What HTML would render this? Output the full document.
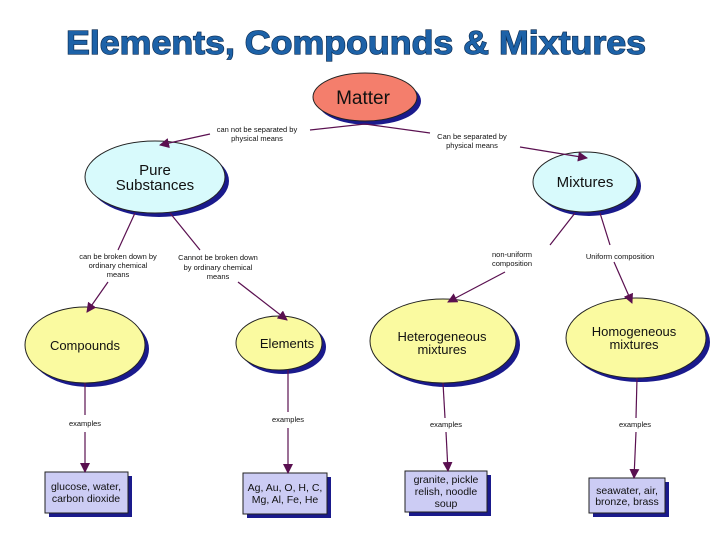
<!DOCTYPE html>
<html><head><meta charset="utf-8"><style>
body{margin:0;background:#fff}
svg{display:block}
.t{font-family:"Liberation Sans",sans-serif}
</style></head><body>
<svg width="720" height="540" viewBox="0 0 720 540" xmlns="http://www.w3.org/2000/svg">
<defs><marker id="a" markerWidth="12" markerHeight="12" refX="9" refY="5" orient="auto" markerUnits="userSpaceOnUse"><path d="M0,0 L10,5 L0,10 Z" fill="#5a1050"/></marker></defs>
<text x="356" y="54" text-anchor="middle" class="t" font-size="33" font-weight="bold" fill="#1d62a8" stroke="#0a2a50" stroke-width="1.2" paint-order="stroke" textLength="580" lengthAdjust="spacingAndGlyphs">Elements, Compounds &amp; Mixtures</text>
<g fill="#1a1a8c">
<ellipse cx="369" cy="101" rx="52" ry="24"/><ellipse cx="159" cy="181" rx="70" ry="36"/><ellipse cx="589" cy="186" rx="52" ry="30"/>
<ellipse cx="89" cy="349" rx="60" ry="38"/><ellipse cx="283" cy="347" rx="43" ry="27"/><ellipse cx="447" cy="345" rx="73" ry="42"/><ellipse cx="640" cy="342" rx="70" ry="40"/>
<rect x="49" y="476" width="83" height="41"/><rect x="247" y="477" width="84" height="41"/><rect x="409" y="475" width="82" height="41"/><rect x="593" y="482" width="76" height="35"/>
</g>
<g stroke="#222" stroke-width="1">
<ellipse cx="365" cy="97" rx="52" ry="24" fill="#f47e6c"/>
<ellipse cx="155" cy="177" rx="70" ry="36" fill="#d8fafc"/>
<ellipse cx="585" cy="182" rx="52" ry="30" fill="#d8fafc"/>
<ellipse cx="85" cy="345" rx="60" ry="38" fill="#fafaa0"/>
<ellipse cx="279" cy="343" rx="43" ry="27" fill="#fafaa0"/>
<ellipse cx="443" cy="341" rx="73" ry="42" fill="#fafaa0"/>
<ellipse cx="636" cy="338" rx="70" ry="40" fill="#fafaa0"/>
<rect x="45" y="472" width="83" height="41" fill="#ccccf4"/>
<rect x="243" y="473" width="84" height="41" fill="#ccccf4"/>
<rect x="405" y="471" width="82" height="41" fill="#ccccf4"/>
<rect x="589" y="478" width="76" height="35" fill="#ccccf4"/>
</g>
<g stroke="#5a1050" stroke-width="1.2" fill="none">
<polyline points="365,124 310,130"/><polyline points="210,134 160,145" marker-end="url(#a)"/>
<polyline points="365,124 430,133"/><polyline points="520,147 587,158" marker-end="url(#a)"/>
<polyline points="135,213 118,250"/><polyline points="108,282 87,312" marker-end="url(#a)"/>
<polyline points="170,213 200,250"/><polyline points="238,282 287,320" marker-end="url(#a)"/>
<polyline points="575,213 550,245"/><polyline points="505,272 448,302" marker-end="url(#a)"/>
<polyline points="600,213 610,245"/><polyline points="614,262 632,303" marker-end="url(#a)"/>
<line x1="85" y1="383" x2="85" y2="415"/><line x1="85" y1="432" x2="85" y2="472" marker-end="url(#a)"/>
<line x1="288" y1="370" x2="288" y2="412"/><line x1="288" y1="428" x2="288" y2="473" marker-end="url(#a)"/>
<line x1="443" y1="383" x2="445" y2="418"/><line x1="446" y1="432" x2="448" y2="471" marker-end="url(#a)"/>
<line x1="637" y1="378" x2="636" y2="418"/><line x1="636" y1="432" x2="634" y2="478" marker-end="url(#a)"/>
</g>
<g class="t" text-anchor="middle" fill="#111">
<text x="363" y="104" font-size="19">Matter</text>
<text x="155" y="175" font-size="15">Pure</text><text x="155" y="190" font-size="15">Substances</text>
<text x="585" y="187" font-size="15">Mixtures</text>
<text x="85" y="350" font-size="13">Compounds</text>
<text x="287" y="348" font-size="13">Elements</text>
<text x="442" y="341" font-size="13">Heterogeneous</text><text x="442" y="354" font-size="13">mixtures</text>
<text x="634" y="336" font-size="13">Homogeneous</text><text x="634" y="349" font-size="13">mixtures</text>
<g font-size="10.5"><text x="86" y="490">glucose, water,</text><text x="86" y="502">carbon dioxide</text>
<text x="285" y="491">Ag, Au, O, H, C,</text><text x="285" y="503">Mg, Al, Fe, He</text>
<text x="446" y="483">granite, pickle</text><text x="446" y="495">relish, noodle</text><text x="446" y="507">soup</text>
<text x="627" y="494">seawater, air,</text><text x="627" y="505">bronze, brass</text></g>
<g font-size="7.5"><text x="257" y="132">can not be separated by</text><text x="257" y="141">physical means</text>
<text x="472" y="139">Can be separated by</text><text x="472" y="148">physical means</text>
<text x="118" y="259">can be broken down by</text><text x="118" y="268">ordinary chemical</text><text x="118" y="277">means</text>
<text x="218" y="260">Cannot be broken down</text><text x="218" y="270">by ordinary chemical</text><text x="218" y="279">means</text>
<text x="512" y="257">non-uniform</text><text x="512" y="266">composition</text>
<text x="620" y="259">Uniform composition</text>
<text x="85" y="426">examples</text><text x="288" y="422">examples</text><text x="446" y="427">examples</text><text x="635" y="427">examples</text></g>
</g>
</svg>
</body></html>
